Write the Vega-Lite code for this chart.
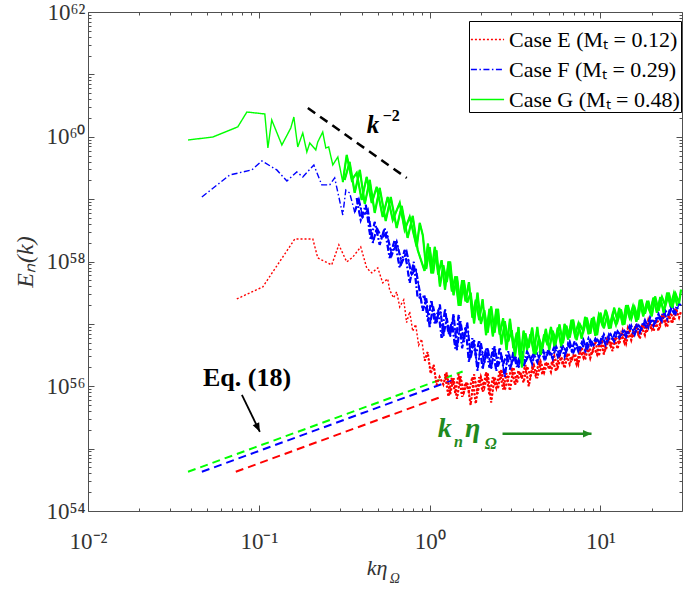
{
  "$schema": "https://vega.github.io/schema/vega-lite/v6.json",
  "width": 594,
  "height": 499,
  "autosize": {"type": "none"},
  "padding": {"left": 88, "top": 12, "right": 3, "bottom": 78},
  "background": "white",
  "view": {"stroke": null},
  "config": {
    "font": "Liberation Serif",
    "axis": {
      "grid": false,
      "domainColor": "#505050",
      "tickColor": "#505050",
      "domainWidth": 1,
      "tickWidth": 1,
      "labelFont": "Liberation Serif",
      "labelFontSize": 23,
      "labelColor": "#333333",
      "labelOverlap": false,
      "labelFlush": false,
      "labelBound": false
    }
  },
  "datasets": {
    "spectra": [
      {"c": "E", "k": 0.0743, "E": 2.51e57},
      {"c": "E", "k": 0.1055, "E": 3.92e57},
      {"c": "E", "k": 0.1625, "E": 2.30e58},
      {"c": "E", "k": 0.207, "E": 2.30e58},
      {"c": "E", "k": 0.2213, "E": 1.14e58},
      {"c": "E", "k": 0.267, "E": 8.81e57},
      {"c": "E", "k": 0.294, "E": 1.85e58},
      {"c": "E", "k": 0.327, "E": 9.84e57},
      {"c": "E", "k": 0.355, "E": 1.18e58},
      {"c": "E", "k": 0.395, "E": 1.71e58},
      {"c": "E", "k": 0.428, "E": 7.89e57},
      {"c": "E", "k": 0.458, "E": 6.56e57},
      {"c": "E", "k": 0.497, "E": 7.89e57},
      {"c": "E", "k": 0.531, "E": 4.54e57},
      {"c": "E", "k": 0.568, "E": 5.26e57},
      {"c": "E", "k": 0.583, "E": 3.51e57},
      {"c": "E", "k": 0.615, "E": 2.61e57},
      {"c": "E", "k": 0.641, "E": 3.26e57},
      {"c": "E", "k": 0.668, "E": 1.87e57},
      {"c": "E", "k": 0.705, "E": 2.43e57},
      {"c": "E", "k": 0.733, "E": 1.05e57},
      {"c": "E", "k": 0.764, "E": 1.57e57},
      {"c": "E", "k": 0.796, "E": 7.63e56},
      {"c": "E", "k": 0.828, "E": 9.8e56},
      {"c": "E", "k": 0.862, "E": 4.54e56},
      {"c": "E", "k": 0.898, "E": 5.68e56},
      {"c": "E", "k": 0.935, "E": 2.55e56},
      {"c": "E", "k": 0.973, "E": 3.53e56},
      {"c": "E", "k": 1.014, "E": 1.60e56},
      {"c": "E", "k": 1.055, "E": 2.20e56},
      {"c": "E", "k": 1.099, "E": 1.05e56},
      {"c": "E", "k": 1.143, "E": 1.41e56},
      {"c": "E", "k": 1.202, "E": 1.07e56},
      {"c": "E", "k": 1.259, "E": 1.66e56},
      {"c": "E", "k": 1.318, "E": 7.41e55},
      {"c": "E", "k": 1.380, "E": 1.35e56},
      {"c": "E", "k": 1.445, "E": 6.31e55},
      {"c": "E", "k": 1.514, "E": 1.45e56},
      {"c": "E", "k": 1.585, "E": 7.94e55},
      {"c": "E", "k": 1.660, "E": 1.15e56},
      {"c": "E", "k": 1.738, "E": 5.01e55},
      {"c": "E", "k": 1.820, "E": 1.55e56},
      {"c": "E", "k": 1.905, "E": 7.59e55},
      {"c": "E", "k": 1.995, "E": 1.41e56},
      {"c": "E", "k": 2.089, "E": 9.55e55},
      {"c": "E", "k": 2.188, "E": 1.62e56},
      {"c": "E", "k": 2.291, "E": 5.50e55},
      {"c": "E", "k": 2.399, "E": 1.41e56},
      {"c": "E", "k": 2.512, "E": 9.12e55},
      {"c": "E", "k": 2.630, "E": 1.86e56},
      {"c": "E", "k": 2.754, "E": 8.71e55},
      {"c": "E", "k": 2.884, "E": 1.38e56},
      {"c": "E", "k": 3.020, "E": 1.82e56},
      {"c": "E", "k": 3.162, "E": 1.05e56},
      {"c": "E", "k": 3.311, "E": 1.78e56},
      {"c": "E", "k": 3.467, "E": 1.35e56},
      {"c": "E", "k": 3.631, "E": 2.19e56},
      {"c": "E", "k": 3.802, "E": 1.00e56},
      {"c": "E", "k": 3.981, "E": 1.95e56},
      {"c": "E", "k": 4.169, "E": 1.48e56},
      {"c": "E", "k": 4.365, "E": 2.40e56},
      {"c": "E", "k": 4.571, "E": 1.55e56},
      {"c": "E", "k": 4.786, "E": 2.45e56},
      {"c": "E", "k": 5.012, "E": 1.91e56},
      {"c": "E", "k": 5.248, "E": 2.57e56},
      {"c": "E", "k": 5.495, "E": 1.74e56},
      {"c": "E", "k": 5.754, "E": 3.24e56},
      {"c": "E", "k": 6.026, "E": 2.19e56},
      {"c": "E", "k": 6.310, "E": 3.31e56},
      {"c": "E", "k": 6.607, "E": 2.24e56},
      {"c": "E", "k": 6.918, "E": 3.16e56},
      {"c": "E", "k": 7.244, "E": 2.24e56},
      {"c": "E", "k": 7.586, "E": 3.80e56},
      {"c": "E", "k": 7.943, "E": 2.88e56},
      {"c": "E", "k": 8.318, "E": 4.68e56},
      {"c": "E", "k": 8.710, "E": 2.82e56},
      {"c": "E", "k": 9.120, "E": 4.27e56},
      {"c": "E", "k": 9.550, "E": 3.24e56},
      {"c": "E", "k": 10.0, "E": 5.50e56},
      {"c": "E", "k": 10.47, "E": 3.24e56},
      {"c": "E", "k": 10.96, "E": 5.75e56},
      {"c": "E", "k": 11.48, "E": 4.37e56},
      {"c": "E", "k": 12.02, "E": 6.03e56},
      {"c": "E", "k": 12.59, "E": 3.98e56},
      {"c": "E", "k": 13.18, "E": 7.24e56},
      {"c": "E", "k": 13.80, "E": 5.01e56},
      {"c": "E", "k": 14.45, "E": 8.51e56},
      {"c": "E", "k": 15.14, "E": 5.50e56},
      {"c": "E", "k": 15.85, "E": 8.51e56},
      {"c": "E", "k": 16.60, "E": 6.76e56},
      {"c": "E", "k": 17.38, "E": 8.91e56},
      {"c": "E", "k": 18.20, "E": 6.61e56},
      {"c": "E", "k": 19.05, "E": 1.15e57},
      {"c": "E", "k": 19.95, "E": 7.94e56},
      {"c": "E", "k": 20.89, "E": 1.17e57},
      {"c": "E", "k": 21.88, "E": 7.76e56},
      {"c": "E", "k": 22.91, "E": 1.38e57},
      {"c": "E", "k": 23.99, "E": 9.77e56},
      {"c": "E", "k": 25.12, "E": 1.38e57},
      {"c": "E", "k": 26.30, "E": 1.02e57},
      {"c": "E", "k": 27.54, "E": 1.78e57},
      {"c": "E", "k": 28.84, "E": 1.26e57},
      {"c": "E", "k": 29.6, "E": 1.58e57},
      {"c": "E", "p": 2, "k": 1.230, "E": 1.58e56},
      {"c": "E", "p": 2, "k": 1.288, "E": 6.84e55},
      {"c": "E", "p": 2, "k": 1.349, "E": 1.38e56},
      {"c": "E", "p": 2, "k": 1.413, "E": 7.76e55},
      {"c": "E", "p": 2, "k": 1.479, "E": 1.58e56},
      {"c": "E", "p": 2, "k": 1.549, "E": 6.76e55},
      {"c": "E", "p": 2, "k": 1.622, "E": 1.15e56},
      {"c": "E", "p": 2, "k": 1.698, "E": 8.32e55},
      {"c": "E", "p": 2, "k": 1.778, "E": 1.40e56},
      {"c": "E", "p": 2, "k": 1.862, "E": 5.25e55},
      {"c": "E", "p": 2, "k": 1.950, "E": 1.40e56},
      {"c": "E", "p": 2, "k": 2.042, "E": 8.22e55},
      {"c": "E", "p": 2, "k": 2.138, "E": 1.68e56},
      {"c": "E", "p": 2, "k": 2.239, "E": 7.16e55},
      {"c": "E", "p": 2, "k": 2.344, "E": 1.40e56},
      {"c": "E", "p": 2, "k": 2.455, "E": 9.44e55},
      {"c": "E", "p": 2, "k": 2.570, "E": 1.76e56},
      {"c": "E", "p": 2, "k": 2.692, "E": 8.91e55},
      {"c": "E", "p": 2, "k": 2.818, "E": 1.62e56},
      {"c": "E", "p": 2, "k": 2.951, "E": 8.51e55},
      {"c": "E", "p": 2, "k": 3.090, "E": 2.02e56},
      {"c": "E", "p": 2, "k": 3.236, "E": 1.12e56},
      {"c": "E", "p": 2, "k": 3.388, "E": 1.70e56},
      {"c": "E", "p": 2, "k": 3.548, "E": 1.15e56},
      {"c": "E", "p": 2, "k": 3.715, "E": 2.09e56},
      {"c": "E", "p": 2, "k": 3.890, "E": 1.46e56},
      {"c": "E", "p": 2, "k": 4.074, "E": 2.16e56},
      {"c": "E", "p": 2, "k": 4.266, "E": 1.35e56},
      {"c": "E", "p": 2, "k": 4.467, "E": 2.45e56},
      {"c": "E", "p": 2, "k": 4.677, "E": 1.66e56},
      {"c": "E", "p": 2, "k": 4.898, "E": 2.40e56},
      {"c": "E", "p": 2, "k": 5.129, "E": 1.70e56},
      {"c": "E", "p": 2, "k": 5.370, "E": 3.02e56},
      {"c": "E", "p": 2, "k": 5.623, "E": 2.02e56},
      {"c": "E", "p": 2, "k": 5.888, "E": 2.95e56},
      {"c": "E", "p": 2, "k": 6.166, "E": 1.95e56},
      {"c": "E", "p": 2, "k": 6.457, "E": 3.43e56},
      {"c": "E", "p": 2, "k": 6.761, "E": 2.57e56},
      {"c": "E", "p": 2, "k": 7.079, "E": 3.31e56},
      {"c": "E", "p": 2, "k": 7.413, "E": 2.26e56},
      {"c": "E", "p": 2, "k": 7.762, "E": 4.22e56},
      {"c": "E", "p": 2, "k": 8.128, "E": 2.69e56},
      {"c": "E", "p": 2, "k": 8.511, "E": 4.37e56},
      {"c": "E", "p": 2, "k": 8.913, "E": 3.24e56},
      {"c": "E", "p": 2, "k": 9.333, "E": 5.25e56},
      {"c": "E", "p": 2, "k": 9.772, "E": 3.05e56},
      {"c": "E", "p": 2, "k": 10.23, "E": 5.07e56},
      {"c": "E", "p": 2, "k": 10.72, "E": 3.72e56},
      {"c": "E", "p": 2, "k": 11.22, "E": 6.03e56},
      {"c": "E", "p": 2, "k": 11.75, "E": 3.67e56},
      {"c": "E", "p": 2, "k": 12.30, "E": 6.10e56},
      {"c": "E", "p": 2, "k": 12.88, "E": 4.79e56},
      {"c": "E", "p": 2, "k": 13.49, "E": 7.76e56},
      {"c": "E", "p": 2, "k": 14.13, "E": 4.85e56},
      {"c": "E", "p": 2, "k": 14.79, "E": 8.04e56},
      {"c": "E", "p": 2, "k": 15.49, "E": 6.17e56},
      {"c": "E", "p": 2, "k": 16.22, "E": 9.77e56},
      {"c": "E", "p": 2, "k": 16.98, "E": 5.75e56},
      {"c": "E", "p": 2, "k": 17.78, "E": 9.66e56},
      {"c": "E", "p": 2, "k": 18.62, "E": 7.18e56},
      {"c": "E", "p": 2, "k": 19.50, "E": 1.14e57},
      {"c": "E", "p": 2, "k": 20.42, "E": 7.59e56},
      {"c": "E", "p": 2, "k": 21.38, "E": 1.16e57},
      {"c": "E", "p": 2, "k": 22.39, "E": 9.44e56},
      {"c": "E", "p": 2, "k": 23.44, "E": 1.45e57},
      {"c": "E", "p": 2, "k": 24.55, "E": 8.91e56},
      {"c": "E", "p": 2, "k": 25.70, "E": 1.51e57},
      {"c": "E", "p": 2, "k": 26.92, "E": 1.12e57},
      {"c": "E", "p": 2, "k": 28.18, "E": 1.74e57},

      {"c": "F", "k": 0.0464, "E": 1.08e59},
      {"c": "F", "k": 0.0676, "E": 2.44e59},
      {"c": "F", "k": 0.091, "E": 2.94e59},
      {"c": "F", "k": 0.1042, "E": 4.09e59},
      {"c": "F", "k": 0.1274, "E": 2.94e59},
      {"c": "F", "k": 0.146, "E": 1.95e59},
      {"c": "F", "k": 0.1668, "E": 2.73e59},
      {"c": "F", "k": 0.1808, "E": 2.27e59},
      {"c": "F", "k": 0.21, "E": 3.53e59},
      {"c": "F", "k": 0.2335, "E": 1.69e59},
      {"c": "F", "k": 0.26, "E": 1.69e59},
      {"c": "F", "k": 0.278, "E": 2.19e59},
      {"c": "F", "k": 0.31, "E": 5.57e58},
      {"c": "F", "k": 0.323, "E": 1.40e59},
      {"c": "F", "k": 0.340, "E": 1.26e59},
      {"c": "F", "k": 0.364, "E": 6.24e58},
      {"c": "F", "k": 0.385, "E": 9.7e58},
      {"c": "F", "k": 0.406, "E": 5.18e58},
      {"c": "F", "k": 0.434, "E": 6.71e58},
      {"c": "F", "k": 0.465, "E": 1.99e58},
      {"c": "F", "k": 0.49, "E": 3.45e58},
      {"c": "F", "k": 0.524, "E": 2.39e58},
      {"c": "F", "k": 0.561, "E": 2.87e58},
      {"c": "F", "k": 0.60, "E": 1.27e58},
      {"c": "F", "k": 0.641, "E": 2.06e58},
      {"c": "F", "k": 0.686, "E": 9.5e57},
      {"c": "F", "k": 0.733, "E": 1.42e58},
      {"c": "F", "k": 0.785, "E": 6.1e57},
      {"c": "F", "k": 0.828, "E": 7.9e57},
      {"c": "F", "k": 0.875, "E": 3.26e57},
      {"c": "F", "k": 0.912, "E": 1.62e57},
      {"c": "F", "k": 0.955, "E": 2.57e57},
      {"c": "F", "k": 1.0, "E": 8.91e56},
      {"c": "F", "k": 1.047, "E": 1.91e57},
      {"c": "F", "k": 1.096, "E": 1.00e57},
      {"c": "F", "k": 1.148, "E": 2.04e57},
      {"c": "F", "k": 1.202, "E": 6.31e56},
      {"c": "F", "k": 1.259, "E": 1.23e57},
      {"c": "F", "k": 1.318, "E": 6.17e56},
      {"c": "F", "k": 1.380, "E": 1.45e57},
      {"c": "F", "k": 1.445, "E": 3.80e56},
      {"c": "F", "k": 1.514, "E": 1.10e57},
      {"c": "F", "k": 1.585, "E": 5.13e56},
      {"c": "F", "k": 1.660, "E": 1.05e57},
      {"c": "F", "k": 1.738, "E": 2.82e56},
      {"c": "F", "k": 1.820, "E": 5.50e56},
      {"c": "F", "k": 1.905, "E": 1.78e56},
      {"c": "F", "k": 1.995, "E": 4.90e56},
      {"c": "F", "k": 2.089, "E": 2.34e56},
      {"c": "F", "k": 2.188, "E": 4.07e56},
      {"c": "F", "k": 2.291, "E": 1.86e56},
      {"c": "F", "k": 2.399, "E": 4.37e56},
      {"c": "F", "k": 2.512, "E": 2.09e56},
      {"c": "F", "k": 2.630, "E": 3.09e56},
      {"c": "F", "k": 2.754, "E": 1.41e56},
      {"c": "F", "k": 2.884, "E": 3.63e56},
      {"c": "F", "k": 3.020, "E": 2.29e56},
      {"c": "F", "k": 3.162, "E": 3.16e56},
      {"c": "F", "k": 3.311, "E": 1.95e56},
      {"c": "F", "k": 3.467, "E": 3.63e56},
      {"c": "F", "k": 3.631, "E": 2.40e56},
      {"c": "F", "k": 3.802, "E": 3.24e56},
      {"c": "F", "k": 3.981, "E": 2.29e56},
      {"c": "F", "k": 4.169, "E": 3.72e56},
      {"c": "F", "k": 4.365, "E": 2.88e56},
      {"c": "F", "k": 4.571, "E": 4.07e56},
      {"c": "F", "k": 4.786, "E": 2.82e56},
      {"c": "F", "k": 5.012, "E": 3.80e56},
      {"c": "F", "k": 5.248, "E": 2.75e56},
      {"c": "F", "k": 5.495, "E": 4.37e56},
      {"c": "F", "k": 5.754, "E": 3.16e56},
      {"c": "F", "k": 6.026, "E": 4.37e56},
      {"c": "F", "k": 6.310, "E": 3.63e56},
      {"c": "F", "k": 6.607, "E": 5.13e56},
      {"c": "F", "k": 6.918, "E": 3.39e56},
      {"c": "F", "k": 7.244, "E": 4.68e56},
      {"c": "F", "k": 7.586, "E": 3.89e56},
      {"c": "F", "k": 7.943, "E": 5.50e56},
      {"c": "F", "k": 8.318, "E": 3.72e56},
      {"c": "F", "k": 8.710, "E": 5.62e56},
      {"c": "F", "k": 9.120, "E": 4.57e56},
      {"c": "F", "k": 9.550, "E": 5.75e56},
      {"c": "F", "k": 10.0, "E": 4.57e56},
      {"c": "F", "k": 10.47, "E": 6.76e56},
      {"c": "F", "k": 10.96, "E": 5.13e56},
      {"c": "F", "k": 11.48, "E": 6.76e56},
      {"c": "F", "k": 12.02, "E": 5.25e56},
      {"c": "F", "k": 12.59, "E": 7.59e56},
      {"c": "F", "k": 13.18, "E": 6.46e56},
      {"c": "F", "k": 13.80, "E": 7.76e56},
      {"c": "F", "k": 14.45, "E": 6.61e56},
      {"c": "F", "k": 15.14, "E": 9.33e56},
      {"c": "F", "k": 15.85, "E": 6.76e56},
      {"c": "F", "k": 16.60, "E": 9.77e56},
      {"c": "F", "k": 17.38, "E": 8.32e56},
      {"c": "F", "k": 18.20, "E": 1.15e57},
      {"c": "F", "k": 19.05, "E": 8.71e56},
      {"c": "F", "k": 19.95, "E": 1.20e57},
      {"c": "F", "k": 20.89, "E": 1.02e57},
      {"c": "F", "k": 21.88, "E": 1.45e57},
      {"c": "F", "k": 22.91, "E": 1.10e57},
      {"c": "F", "k": 23.99, "E": 1.62e57},
      {"c": "F", "k": 25.12, "E": 1.35e57},
      {"c": "F", "k": 26.30, "E": 1.95e57},
      {"c": "F", "k": 27.54, "E": 1.48e57},
      {"c": "F", "k": 28.84, "E": 2.09e57},
      {"c": "F", "k": 29.6, "E": 2.00e57},
      {"c": "F", "p": 2, "k": 0.374, "E": 1.04e59},
      {"c": "F", "p": 2, "k": 0.395, "E": 4.63e58},
      {"c": "F", "p": 2, "k": 0.423, "E": 8.07e58},
      {"c": "F", "p": 2, "k": 0.452, "E": 2.22e58},
      {"c": "F", "p": 2, "k": 0.477, "E": 4.31e58},
      {"c": "F", "p": 2, "k": 0.510, "E": 1.85e58},
      {"c": "F", "p": 2, "k": 0.545, "E": 3.45e58},
      {"c": "F", "p": 2, "k": 0.583, "E": 1.14e58},
      {"c": "F", "p": 2, "k": 0.624, "E": 2.22e58},
      {"c": "F", "p": 2, "k": 0.668, "E": 7.89e57},
      {"c": "F", "p": 2, "k": 0.714, "E": 1.53e58},
      {"c": "F", "p": 2, "k": 0.764, "E": 4.54e57},
      {"c": "F", "p": 2, "k": 0.806, "E": 9.84e57},
      {"c": "F", "p": 2, "k": 0.851, "E": 2.61e57},
      {"c": "F", "p": 2, "k": 0.933, "E": 2.75e57},
      {"c": "F", "p": 2, "k": 0.977, "E": 1.10e57},
      {"c": "F", "p": 2, "k": 1.023, "E": 2.43e57},
      {"c": "F", "p": 2, "k": 1.072, "E": 9.89e56},
      {"c": "F", "p": 2, "k": 1.122, "E": 1.68e57},
      {"c": "F", "p": 2, "k": 1.175, "E": 5.96e56},
      {"c": "F", "p": 2, "k": 1.230, "E": 1.74e57},
      {"c": "F", "p": 2, "k": 1.288, "E": 6.92e56},
      {"c": "F", "p": 2, "k": 1.349, "E": 1.07e57},
      {"c": "F", "p": 2, "k": 1.413, "E": 4.03e56},
      {"c": "F", "p": 2, "k": 1.479, "E": 1.40e57},
      {"c": "F", "p": 2, "k": 1.549, "E": 4.07e56},
      {"c": "F", "p": 2, "k": 1.622, "E": 9.12e56},
      {"c": "F", "p": 2, "k": 1.698, "E": 2.43e56},
      {"c": "F", "p": 2, "k": 1.778, "E": 5.89e56},
      {"c": "F", "p": 2, "k": 1.862, "E": 3.02e56},
      {"c": "F", "p": 2, "k": 1.950, "E": 5.50e56},
      {"c": "F", "p": 2, "k": 2.042, "E": 1.86e56},
      {"c": "F", "p": 2, "k": 2.138, "E": 4.07e56},
      {"c": "F", "p": 2, "k": 2.239, "E": 2.00e56},
      {"c": "F", "p": 2, "k": 2.344, "E": 4.07e56},
      {"c": "F", "p": 2, "k": 2.455, "E": 1.74e56},
      {"c": "F", "p": 2, "k": 2.570, "E": 4.22e56},
      {"c": "F", "p": 2, "k": 2.692, "E": 2.24e56},
      {"c": "F", "p": 2, "k": 2.818, "E": 3.24e56},
      {"c": "F", "p": 2, "k": 2.951, "E": 1.86e56},
      {"c": "F", "p": 2, "k": 3.090, "E": 3.55e56},
      {"c": "F", "p": 2, "k": 3.236, "E": 2.04e56},
      {"c": "F", "p": 2, "k": 3.388, "E": 3.35e56},
      {"c": "F", "p": 2, "k": 3.548, "E": 2.04e56},
      {"c": "F", "p": 2, "k": 3.715, "E": 3.63e56},
      {"c": "F", "p": 2, "k": 3.890, "E": 2.69e56},
      {"c": "F", "p": 2, "k": 4.074, "E": 3.35e56},
      {"c": "F", "p": 2, "k": 4.266, "E": 2.43e56},
      {"c": "F", "p": 2, "k": 4.467, "E": 4.07e56},
      {"c": "F", "p": 2, "k": 4.677, "E": 2.79e56},
      {"c": "F", "p": 2, "k": 4.898, "E": 3.85e56},
      {"c": "F", "p": 2, "k": 5.129, "E": 3.05e56},
      {"c": "F", "p": 2, "k": 5.370, "E": 4.37e56},
      {"c": "F", "p": 2, "k": 5.623, "E": 2.99e56},
      {"c": "F", "p": 2, "k": 5.888, "E": 4.42e56},
      {"c": "F", "p": 2, "k": 6.166, "E": 2.99e56},
      {"c": "F", "p": 2, "k": 6.457, "E": 4.79e56},
      {"c": "F", "p": 2, "k": 6.761, "E": 3.72e56},
      {"c": "F", "p": 2, "k": 7.079, "E": 5.31e56},
      {"c": "F", "p": 2, "k": 7.413, "E": 3.63e56},
      {"c": "F", "p": 2, "k": 7.762, "E": 4.95e56},
      {"c": "F", "p": 2, "k": 8.128, "E": 3.72e56},
      {"c": "F", "p": 2, "k": 8.511, "E": 5.82e56},
      {"c": "F", "p": 2, "k": 8.913, "E": 4.27e56},
      {"c": "F", "p": 2, "k": 9.333, "E": 5.75e56},
      {"c": "F", "p": 2, "k": 9.772, "E": 4.47e56},
      {"c": "F", "p": 2, "k": 10.23, "E": 6.46e56},
      {"c": "F", "p": 2, "k": 10.72, "E": 4.62e56},
      {"c": "F", "p": 2, "k": 11.22, "E": 6.76e56},
      {"c": "F", "p": 2, "k": 11.75, "E": 5.62e56},
      {"c": "F", "p": 2, "k": 12.30, "E": 7.76e56},
      {"c": "F", "p": 2, "k": 12.88, "E": 5.96e56},
      {"c": "F", "p": 2, "k": 13.49, "E": 7.59e56},
      {"c": "F", "p": 2, "k": 14.13, "E": 6.17e56},
      {"c": "F", "p": 2, "k": 14.79, "E": 9.12e56},
      {"c": "F", "p": 2, "k": 15.49, "E": 7.24e56},
      {"c": "F", "p": 2, "k": 16.22, "E": 9.44e56},
      {"c": "F", "p": 2, "k": 16.98, "E": 7.24e56},
      {"c": "F", "p": 2, "k": 17.78, "E": 1.07e57},
      {"c": "F", "p": 2, "k": 18.62, "E": 8.51e56},
      {"c": "F", "p": 2, "k": 19.50, "E": 1.27e57},
      {"c": "F", "p": 2, "k": 20.42, "E": 9.33e56},
      {"c": "F", "p": 2, "k": 21.38, "E": 1.32e57},
      {"c": "F", "p": 2, "k": 22.39, "E": 1.17e57},
      {"c": "F", "p": 2, "k": 23.44, "E": 1.58e57},
      {"c": "F", "p": 2, "k": 24.55, "E": 1.19e57},
      {"c": "F", "p": 2, "k": 25.70, "E": 1.86e57},
      {"c": "F", "p": 2, "k": 26.92, "E": 1.48e57},
      {"c": "F", "p": 2, "k": 28.18, "E": 2.00e57},

      {"c": "G", "k": 0.0385, "E": 8.87e59},
      {"c": "G", "k": 0.0538, "E": 9.9e59},
      {"c": "G", "k": 0.0753, "E": 1.44e60},
      {"c": "G", "k": 0.0851, "E": 2.49e60},
      {"c": "G", "k": 0.1084, "E": 2.32e60},
      {"c": "G", "k": 0.113, "E": 6.61e59},
      {"c": "G", "k": 0.119, "E": 1.86e60},
      {"c": "G", "k": 0.1364, "E": 7.38e59},
      {"c": "G", "k": 0.1538, "E": 1.38e60},
      {"c": "G", "k": 0.1603, "E": 2.07e60},
      {"c": "G", "k": 0.169, "E": 6.86e59},
      {"c": "G", "k": 0.1808, "E": 1.15e60},
      {"c": "G", "k": 0.191, "E": 5.70e59},
      {"c": "G", "k": 0.1987, "E": 7.94e59},
      {"c": "G", "k": 0.2154, "E": 6.14e59},
      {"c": "G", "k": 0.2213, "E": 8.24e59},
      {"c": "G", "k": 0.2366, "E": 1.19e60},
      {"c": "G", "k": 0.2466, "E": 6.61e59},
      {"c": "G", "k": 0.2565, "E": 6.86e59},
      {"c": "G", "k": 0.271, "E": 3.53e59},
      {"c": "G", "k": 0.29, "E": 4.74e59},
      {"c": "G", "k": 0.31, "E": 1.88e59},
      {"c": "G", "k": 0.327, "E": 5.1e59},
      {"c": "G", "k": 0.35, "E": 2.03e59},
      {"c": "G", "k": 0.374, "E": 2.63e59},
      {"c": "G", "k": 0.40, "E": 9.7e58},
      {"c": "G", "k": 0.428, "E": 2.27e59},
      {"c": "G", "k": 0.458, "E": 8.69e58},
      {"c": "G", "k": 0.49, "E": 1.57e59},
      {"c": "G", "k": 0.531, "E": 5.18e58},
      {"c": "G", "k": 0.568, "E": 1.08e59},
      {"c": "G", "k": 0.608, "E": 4.63e58},
      {"c": "G", "k": 0.668, "E": 8.69e58},
      {"c": "G", "k": 0.714, "E": 3.21e58},
      {"c": "G", "k": 0.764, "E": 5.18e58},
      {"c": "G", "k": 0.84, "E": 1.71e58},
      {"c": "G", "k": 0.875, "E": 4.15e58},
      {"c": "G", "k": 0.912, "E": 2.63e58},
      {"c": "G", "k": 0.955, "E": 7.59e57},
      {"c": "G", "k": 1.0, "E": 1.70e58},
      {"c": "G", "k": 1.047, "E": 6.46e57},
      {"c": "G", "k": 1.096, "E": 1.51e58},
      {"c": "G", "k": 1.148, "E": 3.98e57},
      {"c": "G", "k": 1.202, "E": 8.71e57},
      {"c": "G", "k": 1.259, "E": 4.68e57},
      {"c": "G", "k": 1.318, "E": 1.00e58},
      {"c": "G", "k": 1.380, "E": 2.88e57},
      {"c": "G", "k": 1.445, "E": 5.75e57},
      {"c": "G", "k": 1.514, "E": 1.95e57},
      {"c": "G", "k": 1.585, "E": 5.01e57},
      {"c": "G", "k": 1.660, "E": 2.19e57},
      {"c": "G", "k": 1.738, "E": 3.16e57},
      {"c": "G", "k": 1.820, "E": 1.02e57},
      {"c": "G", "k": 1.905, "E": 3.16e57},
      {"c": "G", "k": 1.995, "E": 1.00e57},
      {"c": "G", "k": 2.089, "E": 1.66e57},
      {"c": "G", "k": 2.188, "E": 7.24e56},
      {"c": "G", "k": 2.291, "E": 1.91e57},
      {"c": "G", "k": 2.399, "E": 7.24e56},
      {"c": "G", "k": 2.512, "E": 1.74e57},
      {"c": "G", "k": 2.630, "E": 4.68e56},
      {"c": "G", "k": 2.754, "E": 1.10e57},
      {"c": "G", "k": 2.884, "E": 5.25e56},
      {"c": "G", "k": 3.020, "E": 7.94e56},
      {"c": "G", "k": 3.162, "E": 3.02e56},
      {"c": "G", "k": 3.311, "E": 8.91e56},
      {"c": "G", "k": 3.467, "E": 2.00e56},
      {"c": "G", "k": 3.631, "E": 7.08e56},
      {"c": "G", "k": 3.802, "E": 4.17e56},
      {"c": "G", "k": 3.981, "E": 8.71e56},
      {"c": "G", "k": 4.169, "E": 3.24e56},
      {"c": "G", "k": 4.365, "E": 5.89e56},
      {"c": "G", "k": 4.571, "E": 4.07e56},
      {"c": "G", "k": 4.786, "E": 8.32e56},
      {"c": "G", "k": 5.012, "E": 3.80e56},
      {"c": "G", "k": 5.248, "E": 7.76e56},
      {"c": "G", "k": 5.495, "E": 5.25e56},
      {"c": "G", "k": 5.754, "E": 9.77e56},
      {"c": "G", "k": 6.026, "E": 4.90e56},
      {"c": "G", "k": 6.310, "E": 9.33e56},
      {"c": "G", "k": 6.607, "E": 6.03e56},
      {"c": "G", "k": 6.918, "E": 1.17e57},
      {"c": "G", "k": 7.244, "E": 5.50e56},
      {"c": "G", "k": 7.586, "E": 9.77e56},
      {"c": "G", "k": 7.943, "E": 7.59e56},
      {"c": "G", "k": 8.318, "E": 1.26e57},
      {"c": "G", "k": 8.710, "E": 6.92e56},
      {"c": "G", "k": 9.120, "E": 1.29e57},
      {"c": "G", "k": 9.550, "E": 6.61e56},
      {"c": "G", "k": 10.0, "E": 1.51e57},
      {"c": "G", "k": 10.47, "E": 8.51e56},
      {"c": "G", "k": 10.96, "E": 1.38e57},
      {"c": "G", "k": 11.48, "E": 8.51e56},
      {"c": "G", "k": 12.02, "E": 1.82e57},
      {"c": "G", "k": 12.59, "E": 1.10e57},
      {"c": "G", "k": 13.18, "E": 1.70e57},
      {"c": "G", "k": 13.80, "E": 9.77e56},
      {"c": "G", "k": 14.45, "E": 2.00e57},
      {"c": "G", "k": 15.14, "E": 1.20e57},
      {"c": "G", "k": 15.85, "E": 1.82e57},
      {"c": "G", "k": 16.60, "E": 1.17e57},
      {"c": "G", "k": 17.38, "E": 2.45e57},
      {"c": "G", "k": 18.20, "E": 1.45e57},
      {"c": "G", "k": 19.05, "E": 2.34e57},
      {"c": "G", "k": 19.95, "E": 1.32e57},
      {"c": "G", "k": 20.89, "E": 2.75e57},
      {"c": "G", "k": 21.88, "E": 1.62e57},
      {"c": "G", "k": 22.91, "E": 2.69e57},
      {"c": "G", "k": 23.99, "E": 1.95e57},
      {"c": "G", "k": 25.12, "E": 3.16e57},
      {"c": "G", "k": 26.30, "E": 1.82e57},
      {"c": "G", "k": 27.54, "E": 3.02e57},
      {"c": "G", "k": 28.84, "E": 2.14e57},
      {"c": "G", "k": 29.6, "E": 3.55e57},
      {"c": "G", "p": 2, "k": 0.318, "E": 2.03e59},
      {"c": "G", "p": 2, "k": 0.340, "E": 3.94e59},
      {"c": "G", "p": 2, "k": 0.364, "E": 1.26e59},
      {"c": "G", "p": 2, "k": 0.390, "E": 2.94e59},
      {"c": "G", "p": 2, "k": 0.417, "E": 8.38e58},
      {"c": "G", "p": 2, "k": 0.446, "E": 2.03e59},
      {"c": "G", "p": 2, "k": 0.477, "E": 6.01e58},
      {"c": "G", "p": 2, "k": 0.510, "E": 1.51e59},
      {"c": "G", "p": 2, "k": 0.553, "E": 4.47e58},
      {"c": "G", "p": 2, "k": 0.592, "E": 1.08e59},
      {"c": "G", "p": 2, "k": 0.641, "E": 3.45e58},
      {"c": "G", "p": 2, "k": 0.686, "E": 7.78e58},
      {"c": "G", "p": 2, "k": 0.743, "E": 2.39e58},
      {"c": "G", "p": 2, "k": 0.796, "E": 5.37e58},
      {"c": "G", "p": 2, "k": 0.851, "E": 1.53e58},
      {"c": "G", "p": 2, "k": 0.933, "E": 7.08e57},
      {"c": "G", "p": 2, "k": 0.977, "E": 1.93e58},
      {"c": "G", "p": 2, "k": 1.023, "E": 6.46e57},
      {"c": "G", "p": 2, "k": 1.072, "E": 1.72e58},
      {"c": "G", "p": 2, "k": 1.122, "E": 6.17e57},
      {"c": "G", "p": 2, "k": 1.175, "E": 1.05e58},
      {"c": "G", "p": 2, "k": 1.230, "E": 3.55e57},
      {"c": "G", "p": 2, "k": 1.288, "E": 1.00e58},
      {"c": "G", "p": 2, "k": 1.349, "E": 3.31e57},
      {"c": "G", "p": 2, "k": 1.413, "E": 5.75e57},
      {"c": "G", "p": 2, "k": 1.479, "E": 1.95e57},
      {"c": "G", "p": 2, "k": 1.549, "E": 5.01e57},
      {"c": "G", "p": 2, "k": 1.622, "E": 2.29e57},
      {"c": "G", "p": 2, "k": 1.698, "E": 4.68e57},
      {"c": "G", "p": 2, "k": 1.778, "E": 1.26e57},
      {"c": "G", "p": 2, "k": 1.862, "E": 2.43e57},
      {"c": "G", "p": 2, "k": 1.950, "E": 1.15e57},
      {"c": "G", "p": 2, "k": 2.042, "E": 2.48e57},
      {"c": "G", "p": 2, "k": 2.138, "E": 6.61e56},
      {"c": "G", "p": 2, "k": 2.239, "E": 1.74e57},
      {"c": "G", "p": 2, "k": 2.344, "E": 6.31e56},
      {"c": "G", "p": 2, "k": 2.455, "E": 1.74e57},
      {"c": "G", "p": 2, "k": 2.570, "E": 6.76e56},
      {"c": "G", "p": 2, "k": 2.692, "E": 1.23e57},
      {"c": "G", "p": 2, "k": 2.818, "E": 3.80e56},
      {"c": "G", "p": 2, "k": 2.951, "E": 1.20e57},
      {"c": "G", "p": 2, "k": 3.090, "E": 4.07e56},
      {"c": "G", "p": 2, "k": 3.236, "E": 7.24e56},
      {"c": "G", "p": 2, "k": 3.388, "E": 2.69e56},
      {"c": "G", "p": 2, "k": 3.548, "E": 7.76e56},
      {"c": "G", "p": 2, "k": 3.715, "E": 3.80e56},
      {"c": "G", "p": 2, "k": 3.890, "E": 6.84e56},
      {"c": "G", "p": 2, "k": 4.074, "E": 3.31e56},
      {"c": "G", "p": 2, "k": 4.266, "E": 8.91e56},
      {"c": "G", "p": 2, "k": 4.467, "E": 3.20e56},
      {"c": "G", "p": 2, "k": 4.677, "E": 6.76e56},
      {"c": "G", "p": 2, "k": 4.898, "E": 4.57e56},
      {"c": "G", "p": 2, "k": 5.129, "E": 8.91e56},
      {"c": "G", "p": 2, "k": 5.370, "E": 4.37e56},
      {"c": "G", "p": 2, "k": 5.623, "E": 8.71e56},
      {"c": "G", "p": 2, "k": 5.888, "E": 4.37e56},
      {"c": "G", "p": 2, "k": 6.166, "E": 1.00e57},
      {"c": "G", "p": 2, "k": 6.457, "E": 5.62e56},
      {"c": "G", "p": 2, "k": 6.761, "E": 1.16e57},
      {"c": "G", "p": 2, "k": 7.079, "E": 6.61e56},
      {"c": "G", "p": 2, "k": 7.413, "E": 1.00e57},
      {"c": "G", "p": 2, "k": 7.762, "E": 5.75e56},
      {"c": "G", "p": 2, "k": 8.128, "E": 1.29e57},
      {"c": "G", "p": 2, "k": 8.511, "E": 6.84e56},
      {"c": "G", "p": 2, "k": 8.913, "E": 1.23e57},
      {"c": "G", "p": 2, "k": 9.333, "E": 6.46e56},
      {"c": "G", "p": 2, "k": 9.772, "E": 1.38e57},
      {"c": "G", "p": 2, "k": 10.23, "E": 9.77e56},
      {"c": "G", "p": 2, "k": 10.72, "E": 1.68e57},
      {"c": "G", "p": 2, "k": 11.22, "E": 8.32e56},
      {"c": "G", "p": 2, "k": 11.75, "E": 1.41e57},
      {"c": "G", "p": 2, "k": 12.30, "E": 9.77e56},
      {"c": "G", "p": 2, "k": 12.88, "E": 1.80e57},
      {"c": "G", "p": 2, "k": 13.49, "E": 9.55e56},
      {"c": "G", "p": 2, "k": 14.13, "E": 2.00e57},
      {"c": "G", "p": 2, "k": 14.79, "E": 1.26e57},
      {"c": "G", "p": 2, "k": 15.49, "E": 1.91e57},
      {"c": "G", "p": 2, "k": 16.22, "E": 1.08e57},
      {"c": "G", "p": 2, "k": 16.98, "E": 2.43e57},
      {"c": "G", "p": 2, "k": 17.78, "E": 1.32e57},
      {"c": "G", "p": 2, "k": 18.62, "E": 2.14e57},
      {"c": "G", "p": 2, "k": 19.50, "E": 1.55e57},
      {"c": "G", "p": 2, "k": 20.42, "E": 2.63e57},
      {"c": "G", "p": 2, "k": 21.38, "E": 1.51e57},
      {"c": "G", "p": 2, "k": 22.39, "E": 2.69e57},
      {"c": "G", "p": 2, "k": 23.44, "E": 1.51e57},
      {"c": "G", "p": 2, "k": 24.55, "E": 3.16e57},
      {"c": "G", "p": 2, "k": 25.70, "E": 1.91e57},
      {"c": "G", "p": 2, "k": 26.92, "E": 3.09e57},
      {"c": "G", "p": 2, "k": 28.18, "E": 1.95e57}
    ],
    "eq18": [
      {"c": "E", "k": 0.0733, "E": 4.25e54},
      {"c": "E", "k": 1.19, "E": 6.9e55},
      {"c": "F", "k": 0.0464, "E": 4.25e54},
      {"c": "F", "k": 1.46, "E": 1.34e56},
      {"c": "G", "k": 0.0385, "E": 4.25e54},
      {"c": "G", "k": 1.56, "E": 1.72e56}
    ],
    "slope": [
      {"k": 0.1936, "E": 2.89e60},
      {"k": 0.734, "E": 2.18e59}
    ]
  },
  "layer": [
    {
      "data": {"name": "eq18"},
      "mark": {"type": "line", "strokeWidth": 2, "strokeDash": [8, 5]},
      "encoding": {
        "x": {"field": "k", "type": "quantitative", "scale": {"type": "log", "domain": [0.01, 30]}, "axis": null},
        "y": {"field": "E", "type": "quantitative", "scale": {"type": "log", "domain": [1e54, 1e62]}, "axis": null},
        "color": {"field": "c", "type": "nominal", "scale": {"domain": ["E", "F", "G"], "range": ["#ff0000", "#0000ff", "#00ff00"]}}
      }
    },
    {
      "data": {"name": "spectra"},
      "mark": {"type": "line", "strokeWidth": 1.4},
      "encoding": {
        "x": {
          "field": "k", "type": "quantitative",
          "scale": {"type": "log", "domain": [0.01, 30]},
          "axis": {
            "title": null,
            "values": [0.01, 0.02, 0.03, 0.04, 0.05, 0.06, 0.07, 0.08, 0.09, 0.1, 0.2, 0.3, 0.4, 0.5, 0.6, 0.7, 0.8, 0.9, 1, 2, 3, 4, 5, 6, 7, 8, 9, 10, 20],
            "tickSize": {"condition": {"test": "abs(log(datum.value)/LN10 - round(log(datum.value)/LN10)) < 0.001", "value": -6}, "value": -3},
            "labelPadding": 25,
            "labelExpr": "datum.value == 0.01 ? '10⁻²' : datum.value == 0.1 ? '10⁻¹' : datum.value == 1 ? '10⁰' : datum.value == 10 ? '10¹' : ''"
          }
        },
        "y": {
          "field": "E", "type": "quantitative",
          "scale": {"type": "log", "domain": [1e54, 1e62]},
          "axis": {
            "title": "Eₙ(k)",
            "titleFont": "Liberation Serif",
            "titleFontStyle": "italic",
            "titleFontWeight": "normal",
            "titleFontSize": 24,
            "titleColor": "#333333",
            "titlePadding": 8,
            "values": [1e54, 2e54, 3e54, 4e54, 5e54, 6e54, 7e54, 8e54, 9e54, 1e55, 2e55, 3e55, 4e55, 5e55, 6e55, 7e55, 8e55, 9e55, 1e56, 2e56, 3e56, 4e56, 5e56, 6e56, 7e56, 8e56, 9e56, 1e57, 2e57, 3e57, 4e57, 5e57, 6e57, 7e57, 8e57, 9e57, 1e58, 2e58, 3e58, 4e58, 5e58, 6e58, 7e58, 8e58, 9e58, 1e59, 2e59, 3e59, 4e59, 5e59, 6e59, 7e59, 8e59, 9e59, 1e60, 2e60, 3e60, 4e60, 5e60, 6e60, 7e60, 8e60, 9e60, 1e61, 2e61, 3e61, 4e61, 5e61, 6e61, 7e61, 8e61, 9e61, 1e62],
            "tickSize": {"condition": {"test": "abs(log(datum.value)/LN10 - round(log(datum.value)/LN10)) < 0.001", "value": -6}, "value": -3},
            "labelPadding": 9,
            "labelExpr": "datum.value == 1e54 ? '10⁵⁴' : datum.value == 1e56 ? '10⁵⁶' : datum.value == 1e58 ? '10⁵⁸' : datum.value == 1e60 ? '10⁶⁰' : datum.value == 1e62 ? '10⁶²' : ''"
          }
        },
        "detail": {"field": "p", "type": "nominal"},
        "color": {
          "field": "c", "type": "nominal",
          "scale": {"domain": ["E", "F", "G"], "range": ["#ff0000", "#0000ff", "#00ff00"]},
          "legend": {
            "title": null, "orient": "none", "legendX": 381, "legendY": 9,
            "symbolType": "stroke", "symbolSize": 1100, "symbolStrokeWidth": 1.5,
            "labelFont": "Liberation Serif", "labelFontSize": 22, "labelColor": "black", "labelLimit": 300,
            "strokeColor": "black", "fillColor": "white", "padding": 1, "rowPadding": 1, "labelOffset": 4,
            "labelExpr": "datum.label == 'E' ? 'Case E (Mₜ = 0.12)' : datum.label == 'F' ? 'Case F (Mₜ = 0.29)' : 'Case G (Mₜ = 0.48)'"
          }
        },
        "strokeDash": {
          "field": "c", "type": "nominal",
          "scale": {"domain": ["E", "F", "G"], "range": [[2, 2], [6, 2.5, 1.5, 2.5], [1, 0]]},
          "legend": {
            "title": null, "orient": "none", "legendX": 381, "legendY": 9,
            "symbolType": "stroke", "symbolSize": 1100, "symbolStrokeWidth": 1.5,
            "labelFont": "Liberation Serif", "labelFontSize": 22, "labelColor": "black", "labelLimit": 300,
            "strokeColor": "black", "fillColor": "white", "padding": 1, "rowPadding": 1, "labelOffset": 4,
            "labelExpr": "datum.label == 'E' ? 'Case E (Mₜ = 0.12)' : datum.label == 'F' ? 'Case F (Mₜ = 0.29)' : 'Case G (Mₜ = 0.48)'"
          }
        }
      }
    },
    {
      "data": {"name": "spectra"},
      "transform": [{"filter": "(datum.c == 'G' && datum.k >= 0.3) || (datum.c == 'F' && datum.k >= 0.36) || (datum.c == 'E' && datum.k >= 0.9)"}],
      "mark": {"type": "line", "strokeWidth": 2.2},
      "encoding": {
        "x": {"field": "k", "type": "quantitative", "scale": {"type": "log", "domain": [0.01, 30]}, "axis": null},
        "y": {"field": "E", "type": "quantitative", "scale": {"type": "log", "domain": [1e54, 1e62]}, "axis": null},
        "detail": {"field": "p", "type": "nominal"},
        "color": {"field": "c", "type": "nominal", "scale": {"domain": ["E", "F", "G"], "range": ["#ff0000", "#0000ff", "#00ff00"]}},
        "strokeDash": {"field": "c", "type": "nominal", "scale": {"domain": ["E", "F", "G"], "range": [[2, 2], [6, 2.5, 1.5, 2.5], [1, 0]]}}
      }
    },
    {
      "data": {"name": "slope"},
      "mark": {"type": "line", "color": "black", "strokeWidth": 2.5, "strokeDash": [9, 6]},
      "encoding": {
        "x": {
          "field": "k", "type": "quantitative", "scale": {"type": "log", "domain": [0.01, 30]},
          "axis": {
            "orient": "top", "title": null, "labels": false,
            "values": [0.01, 0.02, 0.03, 0.04, 0.05, 0.06, 0.07, 0.08, 0.09, 0.1, 0.2, 0.3, 0.4, 0.5, 0.6, 0.7, 0.8, 0.9, 1, 2, 3, 4, 5, 6, 7, 8, 9, 10, 20],
            "tickSize": {"condition": {"test": "abs(log(datum.value)/LN10 - round(log(datum.value)/LN10)) < 0.001", "value": -6}, "value": -3}
          }
        },
        "y": {
          "field": "E", "type": "quantitative", "scale": {"type": "log", "domain": [1e54, 1e62]},
          "axis": {
            "orient": "right", "title": null, "labels": false,
            "values": [1e54, 2e54, 3e54, 4e54, 5e54, 6e54, 7e54, 8e54, 9e54, 1e55, 2e55, 3e55, 4e55, 5e55, 6e55, 7e55, 8e55, 9e55, 1e56, 2e56, 3e56, 4e56, 5e56, 6e56, 7e56, 8e56, 9e56, 1e57, 2e57, 3e57, 4e57, 5e57, 6e57, 7e57, 8e57, 9e57, 1e58, 2e58, 3e58, 4e58, 5e58, 6e58, 7e58, 8e58, 9e58, 1e59, 2e59, 3e59, 4e59, 5e59, 6e59, 7e59, 8e59, 9e59, 1e60, 2e60, 3e60, 4e60, 5e60, 6e60, 7e60, 8e60, 9e60, 1e61, 2e61, 3e61, 4e61, 5e61, 6e61, 7e61, 8e61, 9e61, 1e62],
            "tickSize": {"condition": {"test": "abs(log(datum.value)/LN10 - round(log(datum.value)/LN10)) < 0.001", "value": -6}, "value": -3}
          }
        }
      }
    },
    {
      "data": {"values": [{"k": 0.0796, "E": 7.28e55}, {"k": 0.1014, "E": 1.86e55}]},
      "mark": {"type": "line", "color": "black", "strokeWidth": 1.8},
      "encoding": {
        "x": {"field": "k", "type": "quantitative", "scale": {"type": "log", "domain": [0.01, 30]}, "axis": null},
        "y": {"field": "E", "type": "quantitative", "scale": {"type": "log", "domain": [1e54, 1e62]}, "axis": null}
      }
    },
    {
      "data": {"values": [{"k": 0.1014, "E": 1.86e55}]},
      "mark": {"type": "point", "shape": "M0,0L-0.4,1L0.4,1Z", "filled": true, "color": "black", "opacity": 1, "size": 320, "angle": 154},
      "encoding": {
        "x": {"field": "k", "type": "quantitative", "scale": {"type": "log", "domain": [0.01, 30]}, "axis": null},
        "y": {"field": "E", "type": "quantitative", "scale": {"type": "log", "domain": [1e54, 1e62]}, "axis": null}
      }
    },
    {
      "data": {"values": [{"k": 2.67, "E": 1.73e55}, {"k": 8.86, "E": 1.73e55}]},
      "mark": {"type": "line", "color": "#1f8a1f", "strokeWidth": 2.6},
      "encoding": {
        "x": {"field": "k", "type": "quantitative", "scale": {"type": "log", "domain": [0.01, 30]}, "axis": null},
        "y": {"field": "E", "type": "quantitative", "scale": {"type": "log", "domain": [1e54, 1e62]}, "axis": null}
      }
    },
    {
      "data": {"values": [{"k": 8.86, "E": 1.73e55}]},
      "mark": {"type": "point", "shape": "M0,0L-0.45,1L0.45,1Z", "filled": true, "color": "#1f8a1f", "opacity": 1, "size": 290, "angle": 90},
      "encoding": {
        "x": {"field": "k", "type": "quantitative", "scale": {"type": "log", "domain": [0.01, 30]}, "axis": null},
        "y": {"field": "E", "type": "quantitative", "scale": {"type": "log", "domain": [1e54, 1e62]}, "axis": null}
      }
    },
    {
      "data": {"values": [{"k": 0.428, "E": 1.15e60, "t": "k"}]},
      "mark": {"type": "text", "align": "left", "baseline": "alphabetic", "font": "Liberation Serif", "fontSize": 25, "fontWeight": "bold", "fontStyle": "italic", "color": "black"},
      "encoding": {
        "x": {"field": "k", "type": "quantitative", "scale": {"type": "log", "domain": [0.01, 30]}, "axis": null},
        "y": {"field": "E", "type": "quantitative", "scale": {"type": "log", "domain": [1e54, 1e62]}, "axis": null},
        "text": {"field": "t"}
      }
    },
    {
      "data": {"values": [{"k": 0.531, "E": 1.79e60, "t": "−2"}]},
      "mark": {"type": "text", "align": "left", "baseline": "alphabetic", "font": "Liberation Serif", "fontSize": 16, "fontWeight": "bold", "color": "black"},
      "encoding": {
        "x": {"field": "k", "type": "quantitative", "scale": {"type": "log", "domain": [0.01, 30]}, "axis": null},
        "y": {"field": "E", "type": "quantitative", "scale": {"type": "log", "domain": [1e54, 1e62]}, "axis": null},
        "text": {"field": "t"}
      }
    },
    {
      "data": {"values": [{"k": 0.0471, "E": 1.01e56, "t": "Eq. (18)"}]},
      "mark": {"type": "text", "align": "left", "baseline": "alphabetic", "font": "Liberation Serif", "fontSize": 26, "fontWeight": "bold", "color": "black"},
      "encoding": {
        "x": {"field": "k", "type": "quantitative", "scale": {"type": "log", "domain": [0.01, 30]}, "axis": null},
        "y": {"field": "E", "type": "quantitative", "scale": {"type": "log", "domain": [1e54, 1e62]}, "axis": null},
        "text": {"field": "t"}
      }
    },
    {
      "data": {"values": [{"k": 1.114, "E": 1.55e55, "t": "k"}, {"k": 1.61, "E": 1.55e55, "t": "η"}]},
      "mark": {"type": "text", "align": "left", "baseline": "alphabetic", "font": "Liberation Serif", "fontSize": 28, "fontWeight": "bold", "fontStyle": "italic", "color": "#1f8a1f"},
      "encoding": {
        "x": {"field": "k", "type": "quantitative", "scale": {"type": "log", "domain": [0.01, 30]}, "axis": null},
        "y": {"field": "E", "type": "quantitative", "scale": {"type": "log", "domain": [1e54, 1e62]}, "axis": null},
        "text": {"field": "t"}
      }
    },
    {
      "data": {"values": [{"k": 1.39, "E": 1.07e55, "t": "n"}, {"k": 2.10, "E": 9.9e54, "t": "Ω"}]},
      "mark": {"type": "text", "align": "left", "baseline": "alphabetic", "font": "Liberation Serif", "fontSize": 16, "fontWeight": "bold", "fontStyle": "italic", "color": "#1f8a1f"},
      "encoding": {
        "x": {"field": "k", "type": "quantitative", "scale": {"type": "log", "domain": [0.01, 30]}, "axis": null},
        "y": {"field": "E", "type": "quantitative", "scale": {"type": "log", "domain": [1e54, 1e62]}, "axis": null},
        "text": {"field": "t"}
      }
    },
    {
      "data": {"values": [{"k": 0.428, "E": 9.5e52, "t": "kη"}]},
      "mark": {"type": "text", "align": "left", "baseline": "alphabetic", "font": "Liberation Serif", "fontSize": 22, "fontStyle": "italic", "color": "#333333"},
      "encoding": {
        "x": {"field": "k", "type": "quantitative", "scale": {"type": "log", "domain": [0.01, 30]}, "axis": null},
        "y": {"field": "E", "type": "quantitative", "scale": {"type": "log", "domain": [1e54, 1e62]}, "axis": null},
        "text": {"field": "t"}
      }
    },
    {
      "data": {"values": [{"k": 0.584, "E": 7.1e52, "t": "Ω"}]},
      "mark": {"type": "text", "align": "left", "baseline": "alphabetic", "font": "Liberation Serif", "fontSize": 14, "fontStyle": "italic", "color": "#333333"},
      "encoding": {
        "x": {"field": "k", "type": "quantitative", "scale": {"type": "log", "domain": [0.01, 30]}, "axis": null},
        "y": {"field": "E", "type": "quantitative", "scale": {"type": "log", "domain": [1e54, 1e62]}, "axis": null},
        "text": {"field": "t"}
      }
    }
  ],
  "resolve": {"axis": {"x": "independent", "y": "independent"}}
}
